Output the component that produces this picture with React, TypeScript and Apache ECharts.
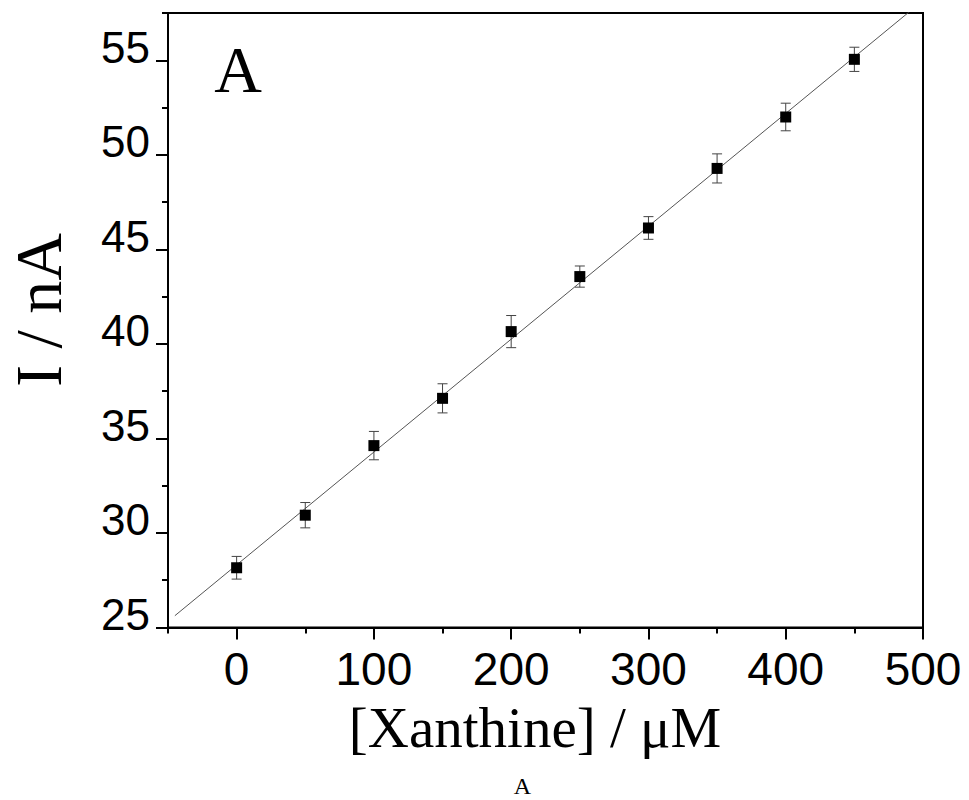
import React, { useEffect, useRef } from "react";
import * as echarts from "echarts";

// ---- data ----
const X_VALUES = [0, 50, 100, 150, 200, 250, 300, 350, 400, 450];
const Y_VALUES = [28.16, 30.94, 34.62, 37.12, 40.65, 43.56, 46.13, 49.28, 52.0, 55.05];
const Y_ERRORS = [0.6, 0.67, 0.75, 0.77, 0.85, 0.56, 0.6, 0.77, 0.73, 0.64];

// linear fit
const FIT_SLOPE = 0.0597;
const FIT_INTERCEPT = 28.31;
const FIT_X_RANGE = [-45, 500];

// ticks
const X_MAJOR_TICKS = [0, 100, 200, 300, 400, 500];
const X_MINOR_TICKS = [-50, 50, 150, 250, 350, 450];
const Y_MAJOR_TICKS = [25, 30, 35, 40, 45, 50, 55];
const Y_MINOR_TICKS = [27.5, 32.5, 37.5, 42.5, 47.5, 52.5, 57.5];

const X_TITLE = "[Xanthine] / μM";
const Y_TITLE = "I / nA";
const PANEL_LABEL = "A";
const CAPTION = "A";

export default function App() {
  const ref = useRef<HTMLDivElement>(null);

  useEffect(() => {
    document.body.style.margin = "0";
    if (!ref.current) return;
    const chart = echarts.init(ref.current, undefined, { renderer: "svg" });

    const points = X_VALUES.map((x, i) => [x, Y_VALUES[i]]);
    const errData = X_VALUES.map((x, i) => [x, Y_VALUES[i], Y_ERRORS[i]]);
    const fitData = FIT_X_RANGE.map((x) => [x, FIT_INTERCEPT + FIT_SLOPE * x]);

    const tickStyle = { color: "#000", width: 2 };
    const sans = "Liberation Sans";
    const serif = "Liberation Serif";

    chart.setOption({
      animation: false,
      backgroundColor: "#fff",
      grid: {
        left: 168,
        right: 46,
        top: 13,
        bottom: 172.5,
        show: true,
        borderColor: "#000",
        borderWidth: 2,
        backgroundColor: "transparent",
      },
      xAxis: [
        {
          type: "value",
          min: -50,
          max: 500,
          position: "bottom",
          axisLine: { show: true, onZero: false, lineStyle: { color: "#000", width: 2 } },
          axisTick: { show: true, customValues: X_MAJOR_TICKS, length: 12, lineStyle: tickStyle },
          axisLabel: {
            customValues: X_MAJOR_TICKS,
            fontSize: 46,
            fontFamily: sans,
            color: "#000",
            margin: 18,
          },
          splitLine: { show: false },
        },
        {
          type: "value",
          min: -50,
          max: 500,
          position: "bottom",
          axisLine: { show: false, onZero: false },
          axisTick: { show: true, customValues: X_MINOR_TICKS, length: 6, lineStyle: tickStyle },
          axisLabel: { show: false },
          splitLine: { show: false },
        },
      ],
      yAxis: [
        {
          type: "value",
          min: 25,
          max: 57.5,
          position: "left",
          axisLine: { show: true, onZero: false, lineStyle: { color: "#000", width: 2 } },
          axisTick: { show: true, customValues: Y_MAJOR_TICKS, length: 12, lineStyle: tickStyle },
          axisLabel: {
            customValues: Y_MAJOR_TICKS,
            fontSize: 44,
            fontFamily: sans,
            color: "#000",
            margin: 18,
            verticalAlign: "bottom",
            lineHeight: 26,
          },
          splitLine: { show: false },
        },
        {
          type: "value",
          min: 25,
          max: 57.5,
          position: "left",
          axisLine: { show: false, onZero: false },
          axisTick: { show: true, customValues: Y_MINOR_TICKS, length: 6, lineStyle: tickStyle },
          axisLabel: { show: false },
          splitLine: { show: false },
        },
      ],
      series: [
        {
          type: "line",
          data: fitData,
          showSymbol: false,
          symbol: "none",
          clip: true,
          lineStyle: { color: "#555", width: 1 },
          z: 1,
          silent: true,
        },
        {
          type: "custom",
          data: errData,
          z: 2,
          clip: true,
          renderItem: (params: any, api: any) => {
            const x = api.value(0);
            const y = api.value(1);
            const e = api.value(2);
            const top = api.coord([x, y + e]);
            const bot = api.coord([x, y - e]);
            const half = 5;
            const style = { stroke: "#444", lineWidth: 1 };
            return {
              type: "group",
              children: [
                { type: "line", shape: { x1: top[0], y1: top[1], x2: bot[0], y2: bot[1] }, style },
                { type: "line", shape: { x1: top[0] - half, y1: top[1], x2: top[0] + half, y2: top[1] }, style },
                { type: "line", shape: { x1: bot[0] - half, y1: bot[1], x2: bot[0] + half, y2: bot[1] }, style },
              ],
            };
          },
        },
        {
          type: "scatter",
          data: points,
          symbol: "rect",
          symbolSize: 11,
          itemStyle: { color: "#000", opacity: 1 },
          z: 3,
        },
      ],
      graphic: [
        {
          type: "text",
          x: 38,
          y: 310,
          rotation: Math.PI / 2,
          style: {
            text: Y_TITLE,
            fontSize: 66,
            fontFamily: serif,
            fill: "#000",
            align: "center",
            verticalAlign: "middle",
          },
        },
        {
          type: "text",
          x: 535,
          y: 727,
          style: {
            text: X_TITLE,
            fontSize: 57,
            fontFamily: serif,
            fill: "#000",
            align: "center",
            verticalAlign: "middle",
          },
        },
        {
          type: "text",
          x: 238,
          y: 69,
          style: {
            text: PANEL_LABEL,
            fontSize: 66,
            fontFamily: serif,
            fill: "#000",
            align: "center",
            verticalAlign: "middle",
          },
        },
        {
          type: "text",
          x: 522.5,
          y: 786,
          style: {
            text: CAPTION,
            fontSize: 24,
            fontFamily: serif,
            fill: "#000",
            align: "center",
            verticalAlign: "middle",
          },
        },
      ],
    });

    return () => chart.dispose();
  }, []);

  return <div ref={ref} style={{ width: 969, height: 800 }} />;
}
